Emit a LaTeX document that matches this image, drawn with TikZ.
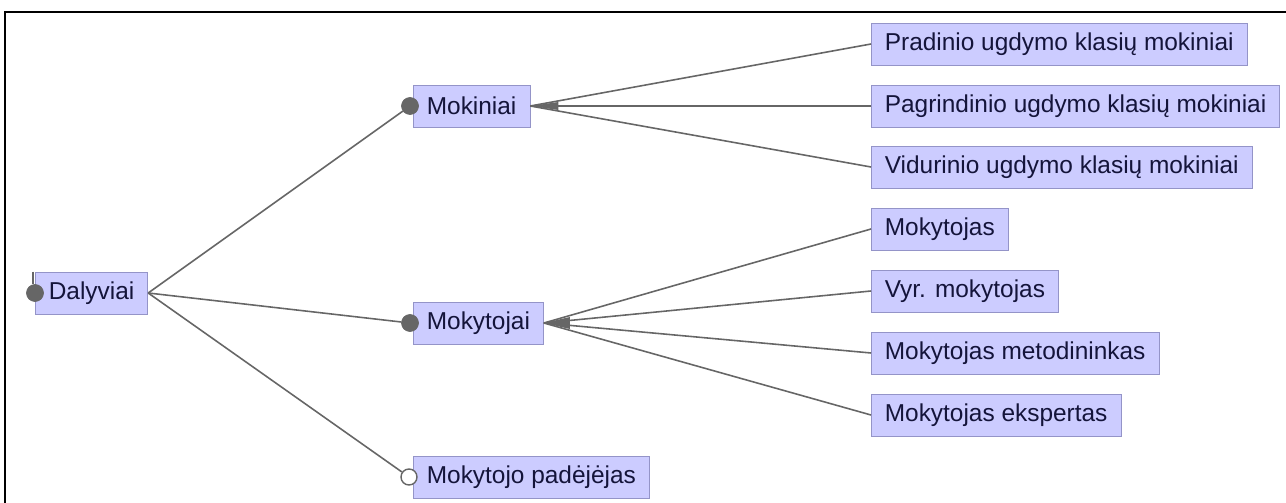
\documentclass[tikz,border=0pt]{standalone}
\usepackage{fontspec}
\setmainfont{Liberation Sans}
\usepackage{tikz}
\usepackage[dvipsnames]{xcolor}
\definecolor{boxfill}{HTML}{CCCCFF}
\definecolor{boxline}{HTML}{9494C8}
\definecolor{linkgray}{HTML}{666666}
\definecolor{textnavy}{HTML}{14143A}

\begin{document}
\begin{tikzpicture}[x=0.02cm, y=-0.02cm,
    item/.style={draw=boxline, fill=boxfill, anchor=west, minimum height=0.84cm,
        inner xsep=0.27cm, inner ysep=0pt, text=textnavy, font=\fontsize{13.9}{16}\selectfont},
    link/.style={linkgray, line width=0.9pt},
    dot/.style={circle, fill=linkgray, draw=linkgray, inner sep=0pt, minimum size=0.34cm},
    opendot/.style={circle, fill=white, draw=linkgray, line width=0.8pt, inner sep=0pt, minimum size=0.32cm}]
\useasboundingbox (0,0) rectangle (1286,503);

% Draw the frame
\draw[black, line width=1.4pt] (5,503) -- (5,12) -- (1286,12);

% Draw the main boxes
\node[item] (dalyviai) at (35,293) {Dalyviai};
\node[item] (mokiniai) at (413,106) {Mokiniai};
\node[item] (mokytojai) at (413,323) {Mokytojai};
\node[item] (padejejas) at (413,477) {Mokytojo padėjėjas};

% Draw the boxes on the right
\node[item] (pradinio) at (871,44) {Pradinio ugdymo klasių mokiniai};
\node[item] (pagrindinio) at (871,106) {Pagrindinio ugdymo klasių mokiniai};
\node[item] (vidurinio) at (871,167) {Vidurinio ugdymo klasių mokiniai};
\node[item] (mokytojas) at (871,229) {Mokytojas};
\node[item] (vyresnysis) at (871,291) {Vyr. mokytojas};
\node[item] (metodininkas) at (871,353) {Mokytojas metodininkas};
\node[item] (ekspertas) at (871,415) {Mokytojas ekspertas};

% Draw the dots
\node[dot] (dalyviaidot) at (dalyviai.west) {};
\node[dot] (mokiniaidot) at ([xshift=-0.06cm]mokiniai.west) {};
\node[dot] (mokytojaidot) at ([xshift=-0.06cm]mokytojai.west) {};
\node[opendot] (padejejasdot) at ([xshift=-0.08cm]padejejas.west) {};
\coordinate (tick) at ([xshift=-0.04cm]dalyviai.north west);
\draw[link] (tick) -- (tick |- dalyviaidot.north);

% Draw the links from Dalyviai
\draw[link] (dalyviai.east) -- (mokiniaidot);
\draw[link] (dalyviai.east) -- (mokytojaidot);
\draw[link] (dalyviai.east) -- (padejejasdot);

% Draw the links from Mokiniai
\fill[linkgray] (mokiniai.east) -- ++(28,-4) -- ++(0,8) -- cycle;
\draw[link] (mokiniai.east) -- (pradinio.west);
\draw[link] (mokiniai.east) -- (pagrindinio.west);
\draw[link] (mokiniai.east) -- (vidurinio.west);

% Draw the links from Mokytojai
\fill[linkgray] (mokytojai.east) -- ++(26,-6) -- ++(0,12) -- cycle;
\draw[link] (mokytojai.east) -- (mokytojas.west);
\draw[link] (mokytojai.east) -- (vyresnysis.west);
\draw[link] (mokytojai.east) -- (metodininkas.west);
\draw[link] (mokytojai.east) -- (ekspertas.west);
\end{tikzpicture}
\end{document}
